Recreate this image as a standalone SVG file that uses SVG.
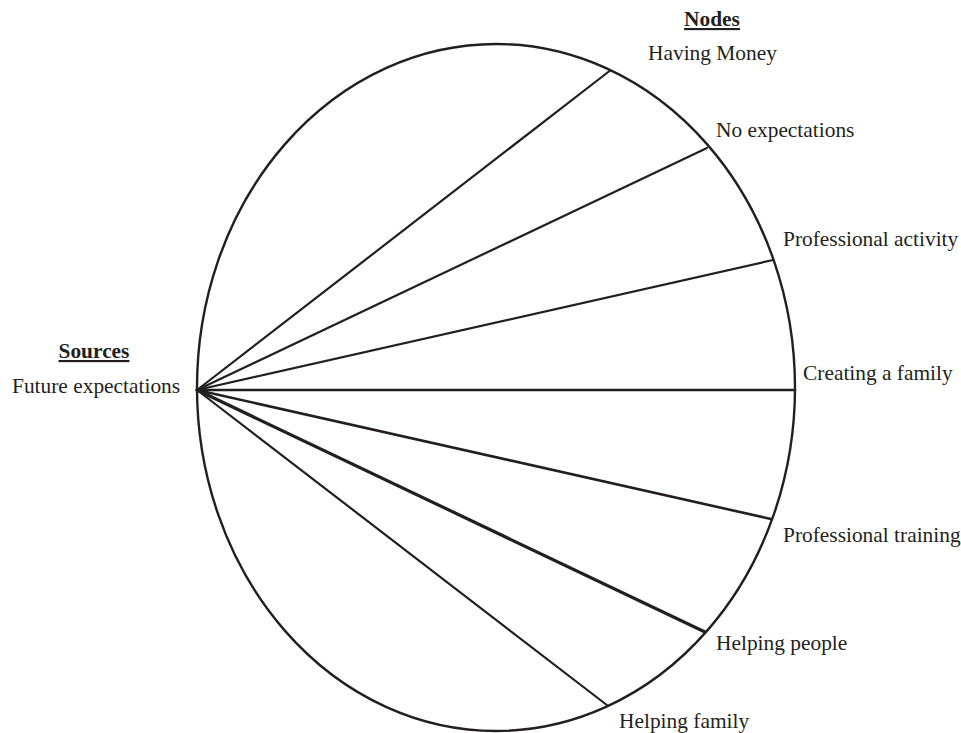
<svg xmlns="http://www.w3.org/2000/svg" width="961" height="733" viewBox="0 0 961 733">
<style>
text{font-family:"Liberation Serif","Times New Roman",serif;font-size:21.4px;fill:#231f20}
.h{font-weight:bold;text-decoration:underline;text-anchor:middle}
.c line{stroke:#231f20;stroke-width:2.2;stroke-linecap:round}
.e{fill:none;stroke:#231f20;stroke-width:2.4}
</style>
<rect width="961" height="733" fill="#fff"/>
<g id="circle"><ellipse class="e" cx="496" cy="387.5" rx="299" ry="343.5"/></g>
<g class="c" id="connectors">
<line x1="197" y1="390" x2="609.5" y2="71"/>
<line x1="197" y1="390" x2="707" y2="148"/>
<line x1="197" y1="390" x2="773" y2="260"/>
<line x1="197" y1="390" x2="795" y2="390" style="stroke-width:2.6"/>
<line x1="197" y1="390" x2="771" y2="519" style="stroke-width:2.6"/>
<line x1="197" y1="390" x2="705" y2="632" style="stroke-width:3.2"/>
<line x1="197" y1="390" x2="607.5" y2="705.5"/>
</g>
<g id="sources"><text class="h" x="94" y="358">Sources</text><text x="12" y="393">Future expectations</text></g>
<g id="nodes-title"><text class="h" x="712" y="26">Nodes</text></g>
<g id="n1"><text x="648" y="60">Having Money</text></g>
<g id="n2"><text x="716" y="137">No expectations</text></g>
<g id="n3"><text x="783" y="246">Professional activity</text></g>
<g id="n4"><text x="803" y="380">Creating a family</text></g>
<g id="n5"><text x="783" y="542">Professional training</text></g>
<g id="n6"><text x="716" y="650">Helping people</text></g>
<g id="n7"><text x="619" y="728">Helping family</text></g>
</svg>
